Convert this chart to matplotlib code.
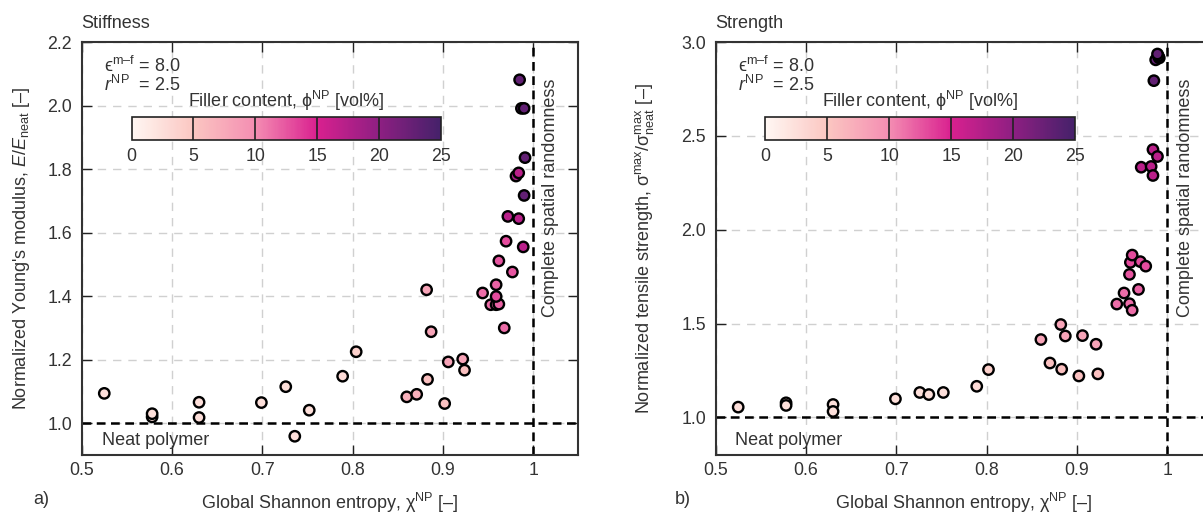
import numpy as np
import matplotlib
matplotlib.use('Agg')
import matplotlib.pyplot as plt
from matplotlib.colors import Normalize, LinearSegmentedColormap

plt.rcParams['font.family'] = ['Liberation Sans', 'DejaVu Sans']
plt.rcParams['mathtext.fontset'] = 'custom'
plt.rcParams['mathtext.rm'] = 'Liberation Sans'
plt.rcParams['mathtext.it'] = 'Liberation Sans:italic'
plt.rcParams['mathtext.bf'] = 'Liberation Sans:bold'
plt.rcParams['mathtext.sf'] = 'Liberation Sans'
plt.rcParams['mathtext.fallback'] = 'stixsans'

# ---------------- data ----------------
# Stiffness panel
stiff_entropy = [0.525, 0.578, 0.578, 0.630, 0.630, 0.699, 0.726, 0.736, 0.752, 0.789, 0.804,
                 0.860, 0.871, 0.882, 0.883, 0.887, 0.902, 0.906, 0.922, 0.924,
                 0.944, 0.953, 0.959, 0.962, 0.959, 0.959, 0.962, 0.970, 0.977, 0.968,
                 0.972, 0.984, 0.989, 0.981, 0.984,
                 0.985, 0.987, 0.990, 0.991, 0.990]
stiff_modulus = [1.094, 1.020, 1.030, 1.066, 1.018, 1.065, 1.115, 0.959, 1.041, 1.148, 1.225,
                 1.083, 1.091, 1.420, 1.138, 1.288, 1.062, 1.193, 1.202, 1.167,
                 1.410, 1.373, 1.373, 1.375, 1.399, 1.436, 1.511, 1.573, 1.476, 1.300,
                 1.651, 1.644, 1.555, 1.778, 1.788,
                 2.081, 1.991, 1.991, 1.836, 1.717]
stiff_filler = [2.5, 2.5, 2.5, 2.5, 2.5, 2.5, 2.5, 2.5, 2.5, 3.0, 4.0,
                7.0, 7.0, 8.0, 5.5, 8.0, 5.5, 8.0, 8.0, 5.5,
                11.5, 11.5, 11.5, 12.0, 13.0, 12.0, 12.5, 13.0, 12.5, 11.5,
                17.0, 17.0, 17.0, 18.5, 17.0,
                23.0, 23.0, 23.0, 23.0, 23.0]

# Strength panel
str_entropy = [0.525, 0.578, 0.578, 0.630, 0.630, 0.699, 0.726, 0.736, 0.752, 0.789, 0.802,
               0.860, 0.870, 0.882, 0.883, 0.887, 0.902, 0.906, 0.921, 0.923,
               0.944, 0.952, 0.958, 0.961, 0.968, 0.958, 0.959, 0.961, 0.970, 0.976,
               0.971, 0.982, 0.984, 0.984, 0.989,
               0.985, 0.987, 0.991, 0.990, 0.989]
str_strength = [1.055, 1.078, 1.064, 1.069, 1.032, 1.099, 1.133, 1.122, 1.133, 1.166, 1.255,
                1.415, 1.290, 1.495, 1.257, 1.434, 1.221, 1.436, 1.390, 1.232,
                1.604, 1.663, 1.606, 1.571, 1.682, 1.762, 1.826, 1.865, 1.830, 1.806,
                2.333, 2.337, 2.289, 2.427, 2.390,
                2.794, 2.905, 2.915, 2.925, 2.936]
str_filler = [2.5, 2.5, 2.5, 2.5, 2.5, 2.5, 2.5, 2.5, 2.5, 3.0, 4.0,
              8.0, 5.5, 8.0, 5.5, 8.0, 5.5, 8.0, 8.0, 5.5,
              11.5, 11.5, 11.5, 11.5, 12.0, 12.5, 13.0, 13.0, 13.0, 13.0,
              17.0, 17.0, 17.0, 17.0, 17.0,
              23.0, 23.0, 23.0, 23.0, 23.0]

x_ticks = [0.5, 0.6, 0.7, 0.8, 0.9, 1.0]
x_ticklabels = ['0.5', '0.6', '0.7', '0.8', '0.9', '1']
stiff_yticks = [1.0, 1.2, 1.4, 1.6, 1.8, 2.0, 2.2]
str_yticks = [1.0, 1.5, 2.0, 2.5, 3.0]
cbar_ticks = [0, 5, 10, 15, 20, 25]

TXT = '#333333'
FS = 13
FT = 12.8
W, H = 1203, 513

fig = plt.figure(figsize=(W / 100, H / 100), dpi=100)
ax1 = fig.add_axes([81.7 / W, 58 / H, 496.6 / W, 413 / H])
ax2 = fig.add_axes([715.6 / W, 58 / H, 497 / W, 413 / H])

cmap = LinearSegmentedColormap.from_list(
    'pinkpurple',
    [(0.0, '#fff7f3'), (0.2, '#fbc6c1'), (0.4, '#f48db2'), (0.6, '#d9208f'),
     (0.8, '#8e1f82'), (1.0, '#45216a')])
norm = Normalize(vmin=0, vmax=25)


def panel(ax, x, y, c, ylim, yticks, ylabel, title, letter, ylab_x, letter_x):
    ax.set_xlim(0.5, 1.05)
    ax.set_ylim(*ylim)
    ax.set_xticks(x_ticks)
    ax.set_xticklabels(x_ticklabels)
    ax.set_yticks(yticks)
    ax.set_yticklabels([f'{v:.1f}' for v in yticks])
    ax.grid(True, color='#d0d0d0', ls=(0, (6, 5)), lw=1.0, zorder=0)
    ax.set_axisbelow(True)
    ax.axhline(1.0, color='black', ls=(0, (3.5, 2.2)), lw=1.8, zorder=2)
    ax.axvline(1.0, color='black', ls=(0, (3.5, 2.2)), lw=1.8, zorder=2)
    sc = ax.scatter(x, y, c=c, cmap=cmap, norm=norm, s=56, edgecolors='black',
                    linewidths=1.7, zorder=3)
    ax.tick_params(direction='in', length=7, width=1.0, color='#222222',
                   labelcolor=TXT, labelsize=FT, top=True, right=True, pad=7)
    ax.tick_params(axis='x', pad=5)
    for sp in ax.spines.values():
        sp.set_color('#333333')
        sp.set_linewidth(1.5)
    ax.set_xlabel('Global Shannon entropy, χ$^{\\rm NP}$ [–]', fontsize=FS, color=TXT)
    ax.xaxis.set_label_coords(0.5, -0.088)
    ax.set_ylabel(ylabel, fontsize=FS, color=TXT)
    ax.yaxis.set_label_coords(ylab_x, 0.5)
    ax.text(0.0, 1.045, title, transform=ax.transAxes, fontsize=FS, color=TXT,
            ha='left', va='center')
    fig.text(letter_x, 1 - 499 / H, letter, fontsize=FS, color=TXT, ha='left', va='center')
    ax.text(0.045, 0.942, 'ϵ$^{\\rm m\u2013f}$ = 8.0', transform=ax.transAxes,
            fontsize=FS, color=TXT, ha='left', va='center')
    ax.text(0.045, 0.896, '$r^{\\rm NP}$  = 2.5', transform=ax.transAxes,
            fontsize=FS, color=TXT, ha='left', va='center')
    ax.text(0.04, 0.036, 'Neat polymer', transform=ax.transAxes, fontsize=FS,
            color=TXT, ha='left', va='center')
    ax.text(0.945, 0.622, 'Complete spatial randomness', transform=ax.transAxes,
            fontsize=FS, color=TXT, ha='center', va='center', rotation=90)
    # colorbar
    cax = ax.inset_axes([0.1003, 0.763, 0.6232, 0.055])
    cb = fig.colorbar(sc, cax=cax, orientation='horizontal', ticks=cbar_ticks)
    cb.outline.set_edgecolor('#222222')
    cb.outline.set_linewidth(1.2)
    cax.tick_params(length=0, labelsize=FT, labelcolor=TXT, pad=6)
    for v in cbar_ticks[1:-1]:
        cax.axvline(v, color='#222222', lw=1.2)
    ax.text(0.412, 0.857, 'Filler content, ϕ$^{\\rm NP}$ [vol%]', transform=ax.transAxes,
            fontsize=FS, color=TXT, ha='center', va='center')


panel(ax1, stiff_entropy, stiff_modulus, stiff_filler, (0.9, 2.2), stiff_yticks,
      "Normalized Young's modulus, $E/E_{\\rm neat}$ [–]", 'Stiffness', 'a)', -0.1, 33 / W)
panel(ax2, str_entropy, str_strength, str_filler, (0.8, 3.0), str_yticks,
      'Normalized tensile strength, $\\mathrm{\\sigma}^{\\rm max}/\\mathrm{\\sigma}^{\\rm max}_{\\rm neat}$ [–]',
      'Strength', 'b)', -0.12, 675 / W)

fig.savefig('out.png', dpi=100)
